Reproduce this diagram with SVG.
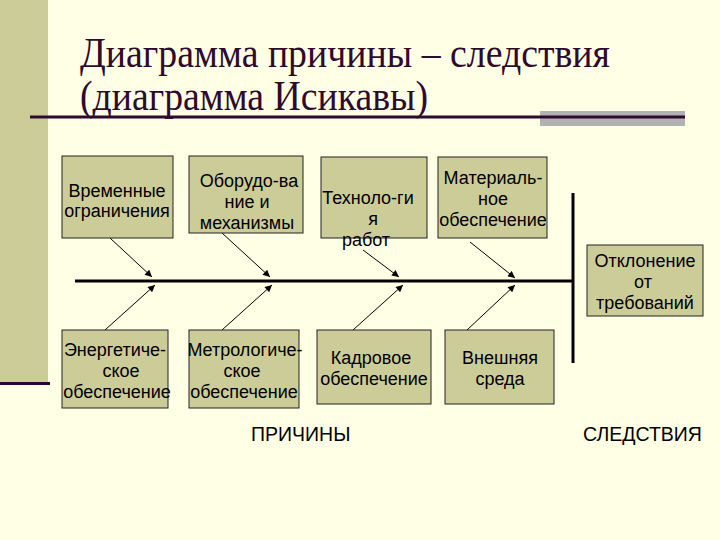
<svg xmlns="http://www.w3.org/2000/svg" width="720" height="540" viewBox="0 0 720 540">
<defs>
<style>
.bg{fill:#ffffe5}
.box{fill:#cccc99;stroke:#222;stroke-width:1}
.t{font-family:"Liberation Sans",Arial,sans-serif;font-size:18px;fill:#000;text-anchor:middle}
.lbl{font-family:"Liberation Sans",Arial,sans-serif;font-size:19.5px;fill:#000}
.title{font-family:"Liberation Serif","Times New Roman",serif;font-size:42px;fill:#2e0a2e}
.arr{stroke:#000;stroke-width:1;fill:none;marker-end:url(#ah)}
.spine{stroke:#000;stroke-width:3;fill:none}
</style>
<marker id="ah" viewBox="0 0 10 10" refX="10" refY="5" markerWidth="8" markerHeight="7" markerUnits="userSpaceOnUse" orient="auto">
<path d="M0,0 L10,5 L0,10 z" fill="#000"/>
</marker>
</defs>
<rect class="bg" x="0" y="0" width="720" height="540"/>
<rect x="0" y="0" width="48" height="382" fill="#cccc99"/>
<rect x="0" y="382" width="50" height="3" fill="#330033"/>
<g id="title">
<text class="title" x="80" y="67" textLength="530" lengthAdjust="spacingAndGlyphs">Диаграмма причины – следствия</text>
<text class="title" x="80" y="110" textLength="348" lengthAdjust="spacingAndGlyphs">(диаграмма Исикавы)</text>
<rect x="540" y="111" width="145" height="15" fill="#b2b2b2"/>
<line x1="30" y1="117" x2="685" y2="117" stroke="#2e0a2e" stroke-width="3"/>
</g>
<g id="connectors">
<line class="spine" x1="75" y1="281" x2="573" y2="281"/>
<line class="spine" x1="573" y1="193" x2="573" y2="363"/>
<line class="arr" x1="110" y1="238" x2="152" y2="277"/>
<line class="arr" x1="222" y1="233" x2="270" y2="277"/>
<line class="arr" x1="363" y1="250" x2="399" y2="277"/>
<line class="arr" x1="470" y1="242" x2="515" y2="278"/>
<line class="arr" x1="105" y1="330" x2="155" y2="285"/>
<line class="arr" x1="222" y1="330" x2="272" y2="285"/>
<line class="arr" x1="353" y1="330" x2="403" y2="285"/>
<line class="arr" x1="467" y1="330" x2="515" y2="285"/>
</g>
<g id="n1">
<rect class="box" x="62" y="156" width="111" height="82"/>
<text class="t" x="117" y="197">Временные</text>
<text class="t" x="117" y="217">ограничения</text>
</g>
<g id="n2">
<rect class="box" x="189" y="156" width="114" height="77"/>
<text class="t" x="249" y="187">Оборудо-ва</text>
<text class="t" x="247" y="208">ние и</text>
<text class="t" x="247" y="229">механизмы</text>
</g>
<g id="n3">
<rect class="box" x="321" y="157" width="106" height="81"/>
<text class="t" x="368" y="204">Техноло-ги</text>
<text class="t" x="373" y="225">я</text>
<text class="t" x="366" y="246">работ</text>
</g>
<g id="n4">
<rect class="box" x="438" y="157" width="109" height="81"/>
<text class="t" x="493" y="184">Материаль-</text>
<text class="t" x="493" y="205">ное</text>
<text class="t" x="493" y="226">обеспечение</text>
</g>
<g id="effect">
<rect class="box" x="587" y="245" width="116" height="71"/>
<text class="t" x="645" y="267">Отклонение</text>
<text class="t" x="643" y="288">от</text>
<text class="t" x="645" y="309">требований</text>
</g>
<g id="n5">
<rect class="box" x="62" y="330" width="106" height="78"/>
<text class="t" x="115" y="356">Энергетиче-</text>
<text class="t" x="121" y="377">ское</text>
<text class="t" x="117" y="398">обеспечение</text>
</g>
<g id="n6">
<rect class="box" x="189" y="330" width="110" height="78"/>
<text class="t" x="245" y="356">Метрологиче-</text>
<text class="t" x="242" y="377">ское</text>
<text class="t" x="244" y="398">обеспечение</text>
</g>
<g id="n7">
<rect class="box" x="317" y="330" width="114" height="74"/>
<text class="t" x="371" y="364">Кадровое</text>
<text class="t" x="374" y="385">обеспечение</text>
</g>
<g id="n8">
<rect class="box" x="445" y="330" width="109" height="74"/>
<text class="t" x="500" y="364">Внешняя</text>
<text class="t" x="500" y="385">среда</text>
</g>
<g id="labels">
<text class="lbl" x="251" y="441">ПРИЧИНЫ</text>
<text class="lbl" x="583" y="441">СЛЕДСТВИЯ</text>
</g>
</svg>
